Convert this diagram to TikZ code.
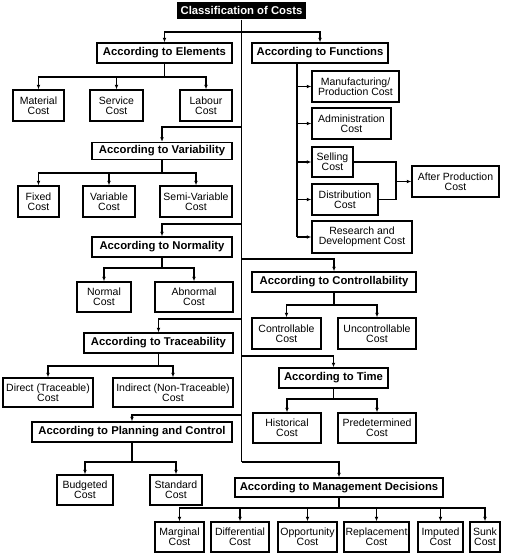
\documentclass[tikz,border=0pt]{standalone}
\usepackage{fontspec}
\setmainfont{Liberation Sans}
\usetikzlibrary{arrows.meta}
\begin{document}
\begin{tikzpicture}[x=1pt,y=-1pt,line width=1.2pt,
  box/.style={draw,line width=1.4pt,inner sep=0pt,align=center,font=\fontsize{10.5}{10.3}\selectfont},
  head/.style={draw,line width=1.4pt,inner sep=0pt,align=center,font=\bfseries\fontsize{11.3}{12}\selectfont},
  arr/.style={-{Latex[length=4.5pt,width=3.8pt]}}]
\useasboundingbox (0,0) rectangle (505,553);
% title
\node[fill=black,text=white,inner sep=0pt,font=\bfseries\fontsize{11.3}{12}\selectfont,minimum width=129pt,minimum height=17pt] (title) at (241.5,10.5) {Classification of Costs};
% headings
\node[head,minimum width=135pt,minimum height=20pt] (elem) at (164.5,53) {According to Elements};
\node[head,minimum width=136pt,minimum height=20pt] (func) at (320,53) {According to Functions};
\node[head,minimum width=140pt,minimum height=17pt] (variab) at (162,151) {According to Variability};
\node[head,minimum width=140pt,minimum height=20pt] (normal) at (162,247) {According to Normality};
\node[head,minimum width=164pt,minimum height=20pt] (control) at (334,282) {According to Controllability};
\node[head,minimum width=149pt,minimum height=20pt] (trace) at (158.5,343) {According to Traceability};
\node[head,minimum width=109pt,minimum height=20pt] (time) at (333.5,378) {According to Time};
\node[head,minimum width=200pt,minimum height=20pt] (plan) at (132,432) {According to Planning and Control};
\node[head,minimum width=208pt,minimum height=19pt] (mgmt) at (339,487.5) {According to Management Decisions};
% elements
\node[box,minimum width=51pt,minimum height=31pt] (material) at (38.5,105.5) {Material\\Cost};
\node[box,minimum width=53pt,minimum height=31pt] (service) at (116.5,105.5) {Service\\Cost};
\node[box,minimum width=52pt,minimum height=31pt] (labour) at (206,105.5) {Labour\\Cost};
% functions
\node[box,minimum width=87pt,minimum height=31pt] (manuf) at (355.5,86.5) {Manufacturing/\\Production Cost};
\node[box,minimum width=79pt,minimum height=31pt] (admin) at (351.5,123.5) {Administration\\Cost};
\node[box,minimum width=41pt,minimum height=30pt] (selling) at (332.5,162) {Selling\\Cost};
\node[box,minimum width=66pt,minimum height=31pt] (distrib) at (345,199.5) {Distribution\\Cost};
\node[box,minimum width=100pt,minimum height=32pt] (research) at (362,237) {Research and\\Development Cost};
\node[box,minimum width=87pt,minimum height=31pt] (after) at (455.5,181.5) {After Production\\Cost};
% variability
\node[box,minimum width=41pt,minimum height=31pt] (fixed) at (38.5,201.5) {Fixed\\Cost};
\node[box,minimum width=52pt,minimum height=31pt] (variable) at (109,201.5) {Variable\\Cost};
\node[box,minimum width=72pt,minimum height=31pt] (semivar) at (196,201.5) {Semi-Variable\\Cost};
% normality
\node[box,minimum width=54pt,minimum height=30pt] (normc) at (104,297) {Normal\\Cost};
\node[box,minimum width=78pt,minimum height=30pt] (abnormc) at (194,297) {Abnormal\\Cost};
% controllability
\node[box,minimum width=69pt,minimum height=31pt] (ctrl) at (286.5,333.5) {Controllable\\Cost};
\node[box,minimum width=78pt,minimum height=31pt] (unctrl) at (377,333.5) {Uncontrollable\\Cost};
% traceability
\node[box,minimum width=90pt,minimum height=29pt] (direct) at (48,392.5) {Direct (Traceable)\\Cost};
\node[box,minimum width=120pt,minimum height=29pt] (indirect) at (173,392.5) {Indirect (Non-Traceable)\\Cost};
% time
\node[box,minimum width=68pt,minimum height=30pt] (hist) at (287,428) {Historical\\Cost};
\node[box,minimum width=78pt,minimum height=30pt] (predet) at (377,428) {Predetermined\\Cost};
% planning
\node[box,minimum width=56pt,minimum height=30pt] (budget) at (85,490) {Budgeted\\Cost};
\node[box,minimum width=52pt,minimum height=30pt] (standard) at (176,490) {Standard\\Cost};
% management
\node[box,minimum width=49pt,minimum height=30pt] (marginal) at (179.5,537) {Marginal\\Cost};
\node[box,minimum width=58pt,minimum height=30pt] (diff) at (240,537) {Differential\\Cost};
\node[box,minimum width=59pt,minimum height=30pt] (opp) at (307.5,537) {Opportunity\\Cost};
\node[box,minimum width=65pt,minimum height=30pt] (repl) at (376.5,537) {Replacement\\Cost};
\node[box,minimum width=45pt,minimum height=30pt] (imput) at (440.5,537) {Imputed\\Cost};
\node[box,minimum width=30pt,minimum height=30pt] (sunk) at (485,537) {Sunk\\Cost};
% trunk coordinates
\coordinate (t1) at (241.5,32);
\coordinate (t2) at (241.5,127);
\coordinate (t3) at (241.5,224);
\coordinate (t4) at (241.5,259);
\coordinate (t5) at (241.5,319);
\coordinate (t6) at (241.5,356);
\coordinate (t7) at (241.5,415);
\coordinate (tend) at (241.5,462);
\draw (title.south) -- (tend);
\draw[arr] (t1) -| (elem.north);
\draw[arr] (t1) -| (func.north);
\draw[arr] (t2) -| (variab.north);
\draw[arr] (t3) -| (normal.north);
\draw[arr] (t4) -| (control.north);
\draw[arr] (t5) -| (trace.north);
\draw[arr] (t6) -| (time.north);
\draw[arr] (t7) -| (plan.north);
\draw[arr] (tend) -| (mgmt.north);
% elements group
\coordinate (jE) at (164.5,77);
\draw (elem.south) -- (jE);
\draw[arr] (jE) -| (material.north);
\draw[arr] (jE) -| (labour.north);
\draw[arr] (jE -| service.north) -- (service.north);
% functions group
\coordinate (fv0) at (297,63);
\coordinate (fv1) at (297,237);
\draw (fv0) -- (fv1);
\draw[arr] (fv0 |- manuf.west) -- (manuf.west);
\draw[arr] (fv0 |- admin.west) -- (admin.west);
\draw[arr] (fv0 |- selling.west) -- (selling.west);
\draw[arr] (fv0 |- distrib.west) -- (distrib.west);
\draw[arr] (fv1) -- (research.west);
\coordinate (sj) at (396,181.5);
\draw (selling.east) -| (sj) |- (distrib.east);
\draw[arr] (sj) -- (after.west);
% variability group
\coordinate (jV) at (162,173);
\draw (variab.south) -- (jV);
\draw[arr] (jV) -| (fixed.north);
\draw[arr] (jV) -| (semivar.north);
\draw[arr] (jV -| variable.north) -- (variable.north);
% normality group
\coordinate (jN) at (162,268);
\draw (normal.south) -- (jN);
\draw[arr] (jN) -| (normc.north);
\draw[arr] (jN) -| (abnormc.north);
% controllability group
\coordinate (jC) at (334,305);
\draw (control.south) -- (jC);
\draw[arr] (jC) -| (ctrl.north);
\draw[arr] (jC) -| (unctrl.north);
% traceability group
\coordinate (jT) at (158.5,366);
\draw (trace.south) -- (jT);
\draw[arr] (jT) -| (direct.north);
\draw[arr] (jT) -| (indirect.north);
% time group
\coordinate (jTi) at (333.5,399);
\draw (time.south) -- (jTi);
\draw[arr] (jTi) -| (hist.north);
\draw[arr] (jTi) -| (predet.north);
% planning group
\coordinate (jP) at (132,462);
\draw (plan.south) -- (jP);
\draw[arr] (jP) -| (budget.north);
\draw[arr] (jP) -| (standard.north);
% management group
\coordinate (jM) at (339,508);
\draw (mgmt.south) -- (jM);
\draw[arr] (jM) -| (marginal.north);
\draw[arr] (jM) -| (sunk.north);
\draw[arr] (jM -| diff.north) -- (diff.north);
\draw[arr] (jM -| opp.north) -- (opp.north);
\draw[arr] (jM -| repl.north) -- (repl.north);
\draw[arr] (jM -| imput.north) -- (imput.north);
\end{tikzpicture}
\end{document}
